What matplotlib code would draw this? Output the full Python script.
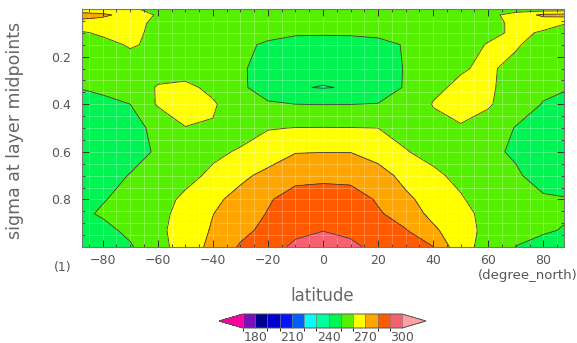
import numpy as np
import matplotlib
matplotlib.use("Agg")
import matplotlib.pyplot as plt
from matplotlib.colors import ListedColormap, BoundaryNorm
from matplotlib.ticker import MultipleLocator, FixedLocator

# latitude columns (degree_north) and sigma rows (top -> surface)
lats = [-87.5, -80, -70, -60, -50, -40, -30, -20, -10, 0,
        10, 20, 30, 40, 50, 60, 70, 80, 87.5]
sigma = [0.0, 0.025, 0.06, 0.1, 0.15, 0.25, 0.33, 0.4, 0.5,
         0.6, 0.7, 0.8, 0.86, 0.93, 1.0]

# temperature (K), one row per sigma level
t_000 = [263, 263, 262, 256, 254, 254, 253, 252, 252, 252, 252, 252, 253, 254, 255, 256, 255, 254, 254]
t_025 = [274, 272, 266, 259, 255, 254, 253, 252, 252, 252, 252, 252, 253, 254, 255, 257, 264, 272, 273]
t_060 = [266, 265, 263, 258, 255, 254, 253, 252, 252, 251.5, 252, 252, 253, 254, 255, 257, 262, 263, 260.5]
t_100 = [259, 261.5, 262, 258, 255, 254, 253, 252, 251, 250.8, 251, 251.5, 253, 254, 255, 257, 262, 259, 256]
t_150 = [255, 257, 261, 258, 255, 254, 251.5, 249, 247, 247, 247, 248, 250.5, 254, 255, 260.8, 261.5, 254, 252]
t_250 = [252, 253, 255, 257.5, 256, 254, 251, 247, 244, 243, 244, 246, 250.5, 254, 259, 262, 256, 253, 252]
t_330 = [250.5, 252, 256, 260.5, 262, 258, 251.5, 246, 240.6, 239.6, 240.6, 245, 250.8, 258, 262, 261.5, 256, 252, 251]
t_400 = [246, 247.5, 250, 261, 263, 261, 255, 251, 250, 249.8, 249.9, 250.3, 252, 260.5, 263, 261, 255, 249.5, 247]
t_500 = [244, 245, 248, 251.5, 259.8, 259.3, 256, 259.5, 260.2, 260.3, 260.2, 260, 257, 257, 259.3, 256, 249.5, 246, 245]
t_600 = [243, 244, 247.5, 250.8, 255, 258, 261, 265, 269.5, 269.8, 269.8, 266, 260.5, 257, 255, 251.5, 249, 246, 245]
t_700 = [246, 247.5, 250.3, 254, 257, 262, 268, 272.5, 277, 277.5, 277, 274, 267, 262, 257.5, 254, 251, 247, 246]
t_800 = [248, 249.5, 252.5, 256, 262, 268, 273, 279, 284, 285, 284.5, 279, 272, 266, 261, 255, 254, 251, 250.5]
t_860 = [248.5, 251, 254, 257.5, 263, 269.8, 275, 280.5, 286, 287.5, 286, 281, 276, 267, 263, 257, 253, 251.5, 251]
t_930 = [246, 247.5, 252, 258, 264, 271, 277.5, 282.5, 286.5, 289.8, 287, 284, 280.5, 272, 263, 258, 253, 251, 249.5]
t_1000 = [245, 246, 249, 257, 264, 273, 281, 284, 293, 294, 293, 286, 283.5, 280.2, 263, 257, 249.8, 247, 246]

temp = np.array([t_000, t_025, t_060, t_100, t_150, t_250, t_330, t_400,
                 t_500, t_600, t_700, t_800, t_860, t_930, t_1000])

levels = [170, 180, 190, 200, 210, 220, 230, 240, 250, 260, 270, 280, 290, 300]
line_levels = [240, 250, 260, 270, 280, 290, 300]
cbar_ticks = [180, 210, 240, 270, 300]

colors = ["#7a10b8", "#000090", "#0000d0", "#0014ff", "#0060ff", "#00ffff",
          "#00ffa0", "#00f552", "#55f000", "#ffff00", "#ffa500", "#ff5a00", "#f86070"]
cmap = ListedColormap(colors)
cmap.set_under("#ff00a0")
cmap.set_over("#ffa0a8")
norm = BoundaryNorm(levels, cmap.N)

W, H = 577, 343
fig = plt.figure(figsize=(W / 100, H / 100), dpi=100)
ax = fig.add_axes([82 / W, 1 - 247 / H, 482 / W, 238 / H])

cf = ax.contourf(lats, sigma, temp, levels=levels, cmap=cmap, norm=norm, extend="both")
ax.contour(lats, sigma, temp, levels=line_levels, colors="#3c3c3c", linewidths=0.6)

ax.set_xlim(-87.5, 87.5)
ax.set_ylim(1.0, 0.0)
ax.xaxis.set_major_locator(FixedLocator([-80, -60, -40, -20, 0, 20, 40, 60, 80]))
ax.xaxis.set_minor_locator(MultipleLocator(5))
ax.yaxis.set_major_locator(FixedLocator([0.2, 0.4, 0.6, 0.8]))
ax.yaxis.set_minor_locator(MultipleLocator(0.05))
ax.yaxis.set_major_formatter(plt.FuncFormatter(lambda v, p: f"{v:.1f}"))
ax.tick_params(which="both", direction="in", top=True, right=True,
               colors="#333333", labelcolor="#555555", labelsize=9)
ax.tick_params(which="major", length=5, width=0.7)
ax.tick_params(which="minor", length=2.5, width=0.6)
ax.tick_params(axis="x", pad=5)
ax.tick_params(axis="y", pad=8)
ax.grid(which="both", color="white", alpha=0.3, linewidth=0.6)
for sp in ax.spines.values():
    sp.set_color("#777777")
    sp.set_linewidth(0.8)

fig.text(15 / W, 1 - 130 / H, "sigma at layer midpoints", rotation=90,
         ha="center", va="center", fontsize=12.5, color="#666666")
fig.text(322 / W, 1 - 296 / H, "latitude", ha="center", va="center",
         fontsize=12, color="#666666")
fig.text(63 / W, 1 - 268 / H, "(1)", ha="center", va="center",
         fontsize=9, color="#555555")
fig.text(478 / W, 1 - 276 / H, "(degree_north)", ha="left", va="center",
         fontsize=9.5, color="#555555")

cax = fig.add_axes([219 / W, 1 - 328 / H, 207 / W, 14 / H])
cb = fig.colorbar(cf, cax=cax, orientation="horizontal", extendfrac=0.15,
                  drawedges=True, ticks=cbar_ticks)
cb.outline.set_edgecolor("#555555")
cb.outline.set_linewidth(0.7)
cb.dividers.set_color("#777777")
cb.dividers.set_linewidth(0.5)
cb.ax.tick_params(length=0, labelsize=9, labelcolor="#555555", pad=2)

fig.savefig("out.png", dpi=100)
